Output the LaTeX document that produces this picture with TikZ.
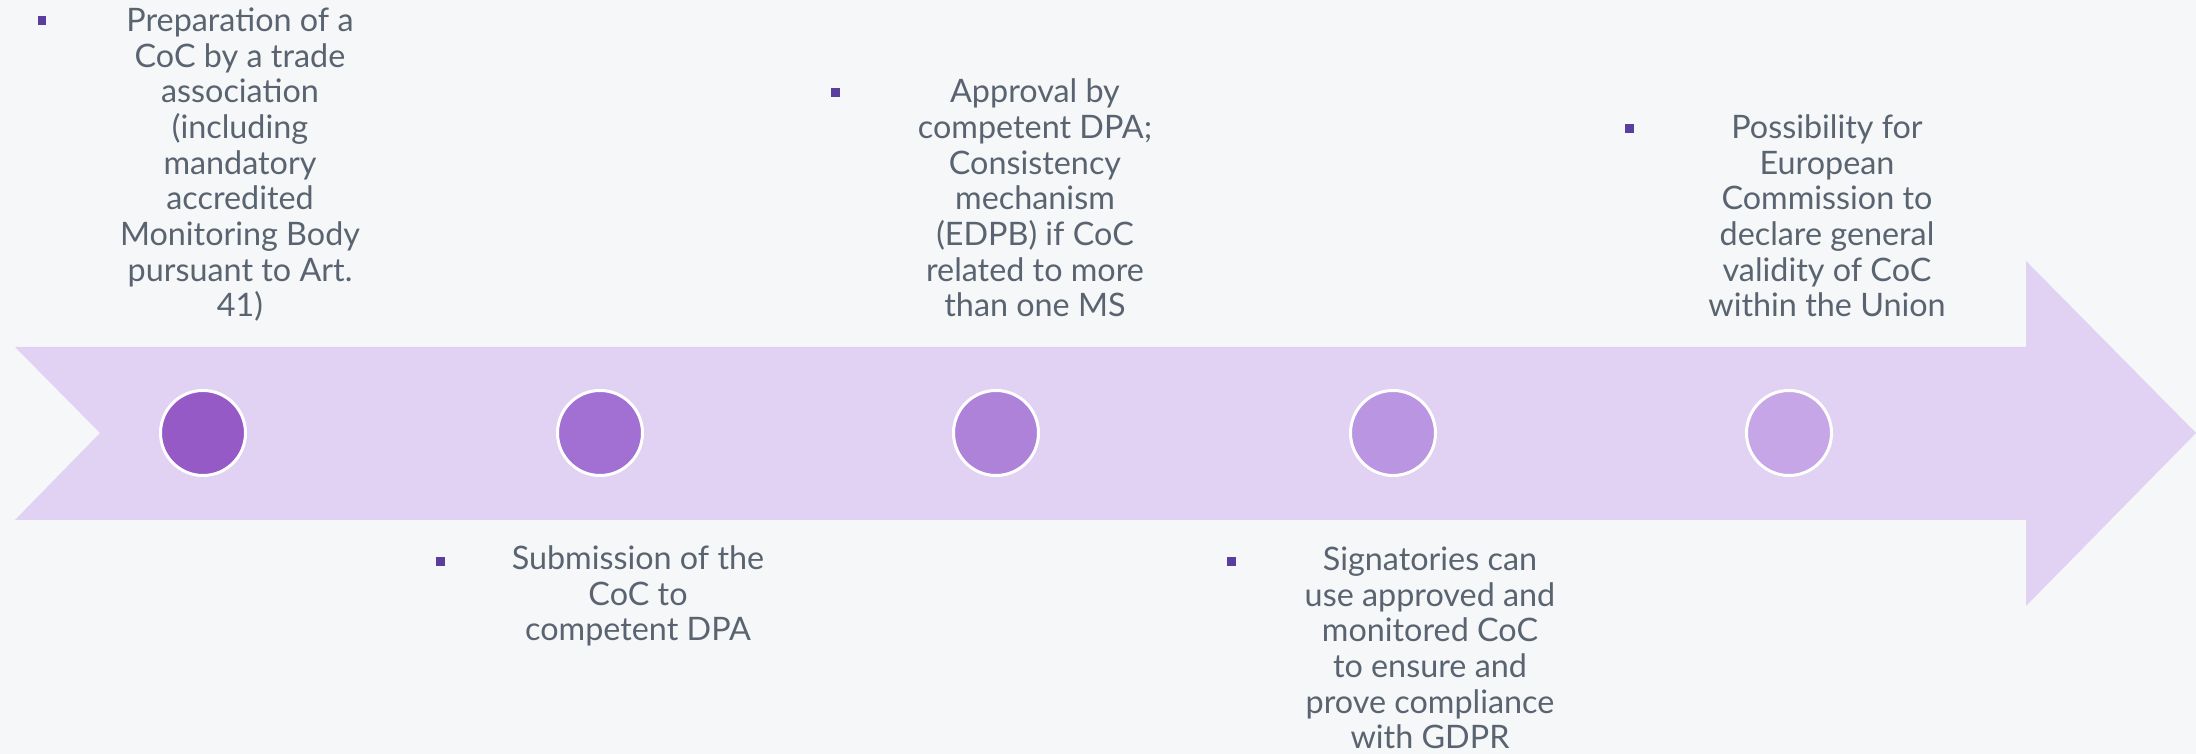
\documentclass[tikz,border=0pt]{standalone}
\usepackage{fontspec}
\setmainfont{Lato}
\definecolor{bgcol}{HTML}{F5F7F9}
\definecolor{bandcol}{HTML}{E1D2F4}
\definecolor{textcol}{HTML}{5A6470}
\definecolor{bulletcol}{HTML}{5A3E9E}
\definecolor{dotA}{HTML}{955AC6}
\definecolor{dotB}{HTML}{A26FD2}
\definecolor{dotC}{HTML}{AF82DA}
\definecolor{dotD}{HTML}{B995E2}
\definecolor{dotE}{HTML}{C6A6E7}
\begin{document}
\begin{tikzpicture}[
    dot/.style={circle, draw=white, line width=0.03cm, minimum size=0.85cm, inner sep=0pt},
    bullet/.style={rectangle, fill=bulletcol, minimum size=0.09cm, inner sep=0pt},
    desc/.style={align=center, text=textcol, inner sep=0pt, anchor=base,
      font=\fontsize{9.2pt}{10.15pt}\selectfont}
  ]
    \useasboundingbox (0,0) rectangle (21.96,7.54);
    \fill[bgcol] (0,0) rectangle (21.96,7.54);
    % band arrow
    \fill[bandcol] (0.15,4.07) -- (20.26,4.07) -- (20.26,4.93) -- (21.96,3.21)
      -- (20.26,1.48) -- (20.26,2.34) -- (0.15,2.34) -- (1.00,3.21) -- cycle;

    \node[dot, fill=dotA] (c1) at (2.03,3.21) {};
    \node[dot, fill=dotB] (c2) at (6.00,3.21) {};
    \node[dot, fill=dotC] (c3) at (9.96,3.21) {};
    \node[dot, fill=dotD] (c4) at (13.93,3.21) {};
    \node[dot, fill=dotE] (c5) at (17.89,3.21) {};

    % text anchored at the baseline of its last line
    \node[bullet] (b1) at (0.42,7.33) {};
    \node[desc] (t1) at (2.40,4.37) {Preparation of a\\CoC by a trade\\association\\(including\\mandatory\\accredited\\Monitoring Body\\pursuant to Art.\\41)};
    \node[bullet] (b2) at (4.40,1.92) {};
    \node[desc] (t2) at (6.38,1.13) {Submission of the\\CoC to\\competent DPA};
    \node[bullet] (b3) at (8.35,6.61) {};
    \node[desc] (t3) at (10.35,4.37) {Approval by\\competent DPA;\\Consistency\\mechanism\\(EDPB) if CoC\\related to more\\than one MS};
    \node[bullet] (b4) at (12.31,1.92) {};
    \node[desc] (t4) at (14.30,0.05) {Signatories can\\use approved and\\monitored CoC\\to ensure and\\prove compliance\\with GDPR};
    \node[bullet] (b5) at (16.29,6.25) {};
    \node[desc] (t5) at (18.27,4.37) {Possibility for\\European\\Commission to\\declare general\\validity of CoC\\within the Union};
  \end{tikzpicture}
\end{document}
